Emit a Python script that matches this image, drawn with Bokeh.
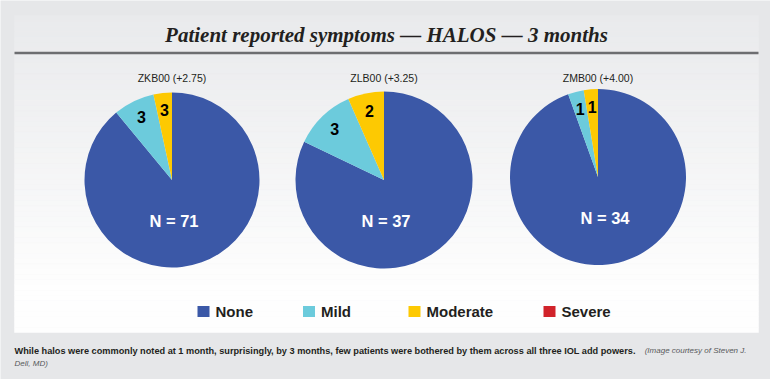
import math
from bokeh.plotting import figure
from bokeh.models import Range1d
from bokeh.core.properties import value
from bokeh.embed import file_html
from bokeh.resources import INLINE

# ---------------- data ----------------
title_text = "Patient reported symptoms \u2014 HALOS \u2014 3 months"
lenses = ["ZKB00 (+2.75)", "ZLB00 (+3.25)", "ZMB00 (+4.00)"]
n_totals = [71, 37, 34]
categories = ["None", "Mild", "Moderate", "Severe"]
# slice shares (percent of pie) as drawn
share_none = [89.0, 82.1, 94.5]
share_mild = [7.6, 11.3, 2.9]
share_moderate = [3.4, 6.6, 2.6]
share_severe = [0.0, 0.0, 0.0]
# patient counts printed on the small slices
count_mild = [3, 3, 1]
count_moderate = [3, 2, 1]
caption_bold = ("While halos were commonly noted at 1 month, surprisingly, by 3 months, "
                "few patients were bothered by them across all three IOL add powers.")
caption_italic_1 = "(Image courtesy of Steven J."
caption_italic_2 = "Dell, MD)"

colors = ["#3b58a7", "#6ccbdc", "#fdc902", "#d1232a"]

SANS = value("Liberation Sans")

# ---------------- layout helpers ----------------
W, H = 770, 379
def px(x):
    return x
def py(y):
    return H - y

p = figure(width=W, height=H, output_backend="svg", toolbar_location=None,
           x_range=Range1d(0, W), y_range=Range1d(0, H), min_border=0)
p.axis.visible = False
p.grid.visible = False
p.outline_line_color = None
p.background_fill_color = "#e6e7e9"
p.border_fill_color = "#e6e7e9"

# panel with vertical gradient
top, bot = 15, 332
nb = 60
def mix(c1, c2, t):
    return "#%02x%02x%02x" % tuple(int(round(a + (b - a) * t)) for a, b in zip(c1, c2))
c_top = (233, 234, 236)
c_bot = (254, 254, 254)
lefts, rights, tops, bots, cols = [], [], [], [], []
for i in range(nb):
    y0 = top + (bot - top) * i / nb
    y1 = top + (bot - top) * (i + 1) / nb
    t = min(1.0, (i + 0.5) / nb * 1.15)
    lefts.append(px(14)); rights.append(px(758))
    tops.append(py(y0)); bots.append(py(y1))
    cols.append(mix(c_top, c_bot, t))
p.quad(left=lefts, right=rights, top=tops, bottom=bots, fill_color=cols, line_color=cols, line_width=0.5)

# title and rule
p.text(x=[px(386)], y=[py(34)], text=[title_text], text_font=value("Liberation Serif"),
       text_font_style="bold italic", text_font_size="21px", text_color="#231f20",
       text_align="center", text_baseline="middle")
p.line(x=[px(14), px(758)], y=[py(52.5), py(52.5)], line_color="#6d6e71", line_width=2.5)

# pies
centers = [(171.5, 179.5), (383.5, 179.5), (597.5, 176.5)]
radii = [87.5, 88.5, 88.0]
n_label_dx = [2, 2, 7]
for k in range(3):
    cx, cy = centers[k]
    shares = [share_none[k], share_mild[k], share_moderate[k], share_severe[k]]
    total = sum(shares)
    cum = 0.0
    mids = []
    for j, s in enumerate(shares):
        a0 = math.pi / 2 - 2 * math.pi * cum / total
        cum += s
        a1 = math.pi / 2 - 2 * math.pi * cum / total
        mids.append((a0 + a1) / 2)
        if s > 0:
            p.wedge(x=[px(cx)], y=[py(cy)], radius=radii[k], start_angle=a1, end_angle=a0,
                    fill_color=colors[j], line_color=None)
    # slice labels
    lr = radii[k] * 0.80
    for j, cnt in ((1, count_mild[k]), (2, count_moderate[k])):
        lx = px(cx) + lr * math.cos(mids[j])
        ly = py(cy) + lr * math.sin(mids[j])
        p.text(x=[lx], y=[ly], text=[str(cnt)], text_font=SANS,
               text_font_style="bold", text_font_size="16px", text_color="#000000",
               text_align="center", text_baseline="middle")
    # N label
    p.text(x=[px(cx) + n_label_dx[k]], y=[py(cy + 41)], text=["N = %d" % n_totals[k]],
           text_font=SANS, text_font_style="bold",
           text_font_size="16.5px", text_color="#ffffff", text_align="center", text_baseline="middle")
    # lens label
    p.text(x=[px(cx)], y=[py(77.5)], text=[lenses[k]], text_font=SANS,
           text_font_size="10.5px", text_color="#231f20", text_align="center", text_baseline="middle")

# legend
leg_sq_x = [203, 308.5, 414, 549]
leg_y = 311
for j, cat in enumerate(categories):
    p.rect(x=[px(leg_sq_x[j])], y=[py(leg_y)], width=12, height=11, fill_color=colors[j], line_color=None)
    p.text(x=[px(leg_sq_x[j] + 12)], y=[py(leg_y)], text=[cat], text_font=SANS,
           text_font_style="bold", text_font_size="15px", text_color="#231f20",
           text_align="left", text_baseline="middle")

# caption
p.text(x=[px(14)], y=[py(350)], text=[caption_bold], text_font=SANS,
       text_font_style="bold", text_font_size="9.2px", text_color="#231f20",
       text_align="left", text_baseline="middle")
p.text(x=[px(746)], y=[py(350)], text=[caption_italic_1], text_font=SANS,
       text_font_style="italic", text_font_size="8px", text_color="#58595b",
       text_align="right", text_baseline="middle")
p.text(x=[px(14)], y=[py(363)], text=[caption_italic_2], text_font=SANS,
       text_font_style="italic", text_font_size="8px", text_color="#58595b",
       text_align="left", text_baseline="middle")

open("out.html", "w").write(file_html(p, INLINE))
